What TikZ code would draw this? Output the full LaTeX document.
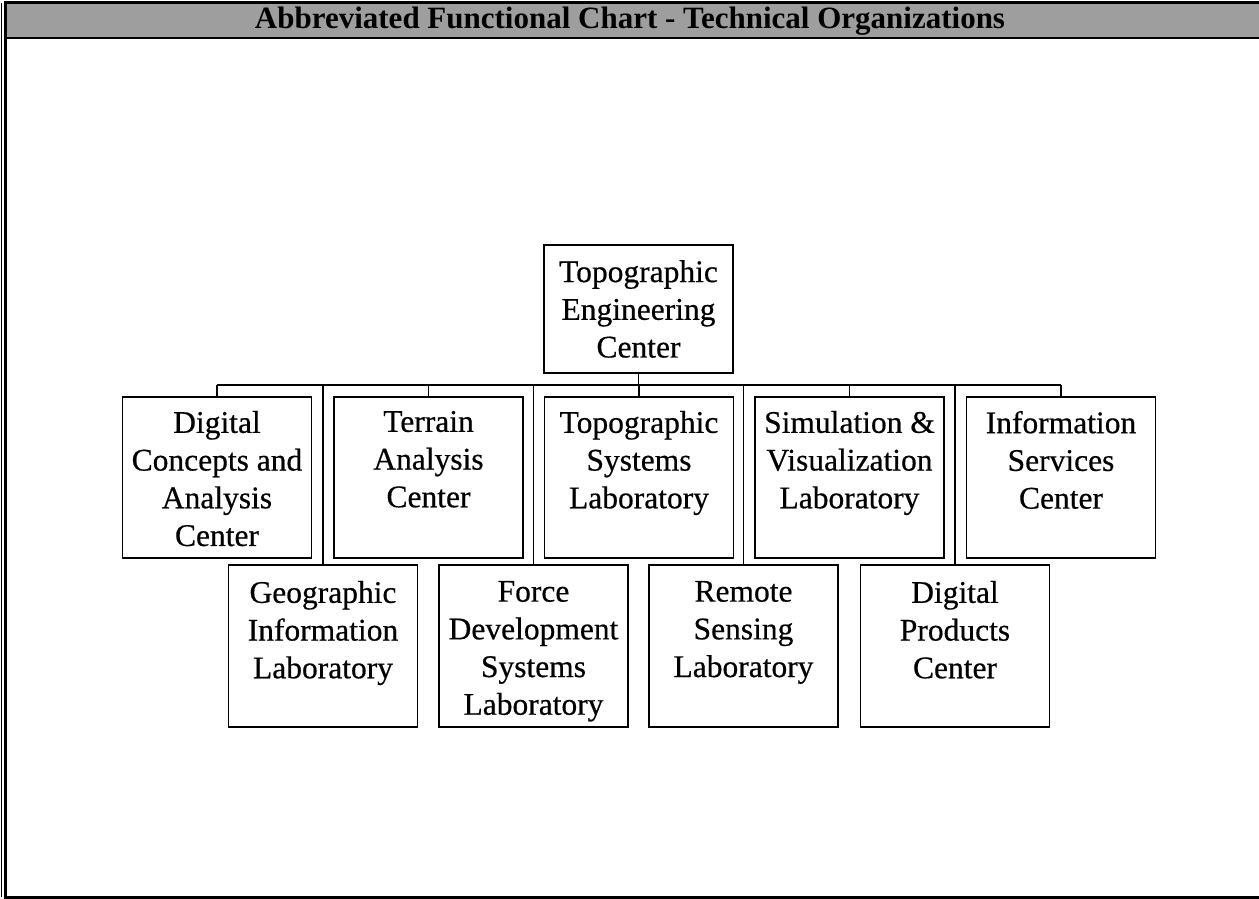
\documentclass[tikz,border=0pt]{standalone}
\usepackage{fontspec}
\setmainfont{Liberation Serif}
\newfontfamily\scanfont{Liberation Serif}[FakeBold=0.5]
\newcommand\boxtxt[2]{\parbox[c][#1][t]{185pt}{\centering #2}}
\begin{document}
\begin{tikzpicture}[x=1pt,y=-1pt,
 box/.style={draw, line width=1.7pt, minimum width=189pt, inner xsep=0pt, font=\scanfont\fontsize{31.5}{37.7}\selectfont},
 rowa/.style={box, inner ysep=14pt, minimum height=161pt},
 rowb/.style={box, inner ysep=16pt, minimum height=162pt},
 link/.style={line width=1.2pt},
 titletext/.style={font=\fontsize{31}{36}\selectfont\bfseries}]
\useasboundingbox (0,0) rectangle (1259,899);
\fill[black!38] (5,3) rectangle (1259,38);
\draw[line width=3pt] (1259,3) -- (5,3) -- (5,897) -- (1259,897);
\draw[line width=2pt] (5,38) -- (1259,38);
\draw[line width=0.8pt] (1.5,3) -- (1.5,897);
\node[titletext] (title) at (630,21) {Abbreviated Functional Chart - Technical Organizations};

\node[box, minimum height=128pt, inner ysep=0pt] (tec) at (638.5,309) {\parbox{185pt}{\centering Topographic\\Engineering\\Center}};

\node[rowa] (dca) at (217,477.5) {\boxtxt{133pt}{Digital\\Concepts and\\Analysis\\Center}};
\node[rowa] (tac) at (428.5,477.5) {\boxtxt{133pt}{Terrain\\Analysis\\Center}};
\node[rowa] (tsl) at (639,477.5) {\boxtxt{133pt}{Topographic\\Systems\\Laboratory}};
\node[rowa] (svl) at (849.5,477.5) {\boxtxt{133pt}{Simulation \&\\Visualization\\Laboratory}};
\node[rowa] (isc) at (1061,477.5) {\boxtxt{133pt}{Information\\Services\\Center}};

\node[rowb] (gil) at (323,646) {\boxtxt{130pt}{Geographic\\Information\\Laboratory}};
\node[rowb] (fds) at (533.5,646) {\boxtxt{130pt}{Force\\Development\\Systems\\Laboratory}};
\node[rowb] (rsl) at (743.5,646) {\boxtxt{130pt}{Remote\\Sensing\\Laboratory}};
\node[rowb] (dpc) at (955,646) {\boxtxt{130pt}{Digital\\Products\\Center}};

\coordinate (bar) at (0,385);
\draw[link] (tec.south) -- (tec.south |- bar);
\draw[link] (dca.north |- bar) -- (isc.north |- bar);
\foreach \n in {dca,tac,tsl,svl,isc,gil,fds,rsl,dpc} \draw[link] (\n.north |- bar) -- (\n.north);
\end{tikzpicture}
\end{document}
